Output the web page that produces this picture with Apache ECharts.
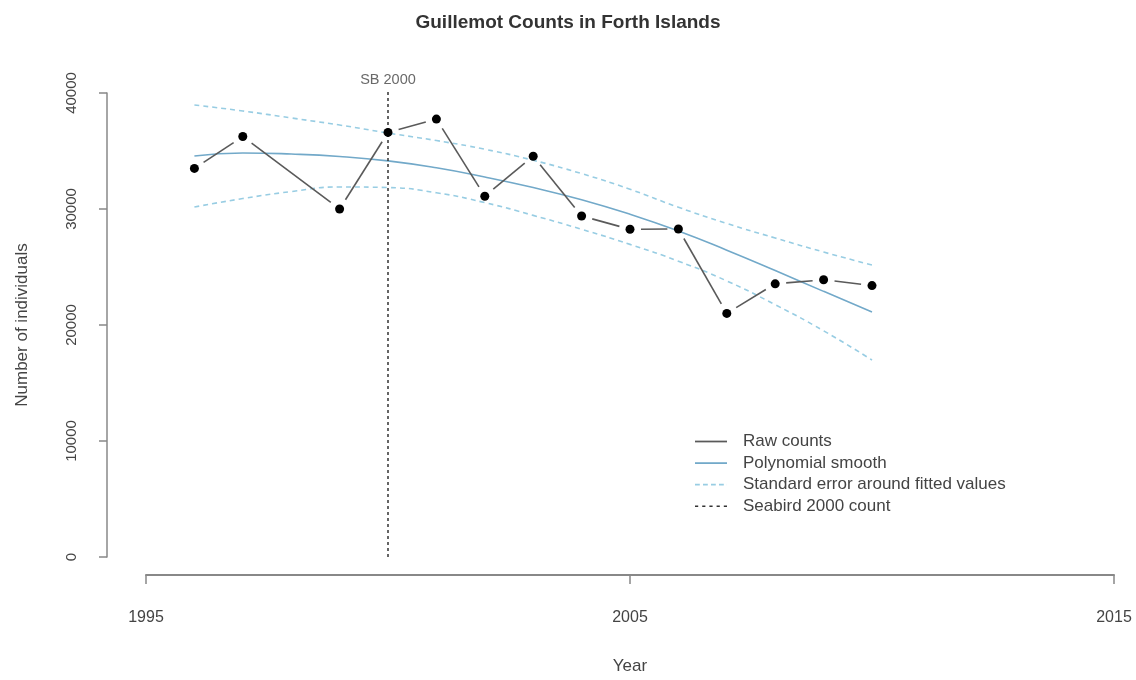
<!DOCTYPE html>
<html><head><meta charset="utf-8">
<script src="https://cdn.jsdelivr.net/npm/echarts@6/dist/echarts.min.js"></script>
<style>html,body{margin:0;padding:0;background:#fff}#c{width:1136px;height:680px}</style>
</head><body><div id="c"></div>
<script>
// Raw counts (1998 missing)
const years = [1996, 1997, 1999, 2000, 2001, 2002, 2003, 2004, 2005, 2006, 2007, 2008, 2009, 2010];
const counts = [33500, 36250, 30000, 36600, 37750, 31100, 34550, 29400, 28250, 28280, 21000, 23550, 23900, 23400];
// Polynomial smooth and standard error band
const fitYears = [1996, 1997, 1998, 1999, 2000, 2001, 2002, 2003, 2004, 2005, 2006, 2007, 2008, 2009, 2010];
const fitted  = [34570, 34830, 34740, 34530, 34150, 33550, 32760, 31850, 30800, 29550, 28100, 26450, 24700, 22900, 21120];
const upperSE = [38970, 38450, 37850, 37240, 36550, 35900, 35150, 34200, 33050, 31700, 30150, 28750, 27500, 26290, 25170];
const lowerSE = [30170, 30900, 31500, 31900, 31850, 31400, 30550, 29450, 28250, 26950, 25500, 23800, 21750, 19500, 16980];
// Seabird 2000 reference line
const seabirdYear = 2000;
const seabirdSpan = [0, 40300];
const seabirdLabel = 'SB 2000';
// Axes
const xTickValues = [1995, 2005, 2015];
const yTickValues = [0, 10000, 20000, 30000, 40000];

const rawColor = '#5a5a5a';
const smoothColor = '#72a9c9';
const seColor = '#98cde3';
const sbColor = '#333333';
const textColor = '#444';
const axisColor = '#888';
const FONT = 'Liberation Sans, Arial, sans-serif';

const solidIcon = 'path://M0,0H40V2.2H0Z';
const dashIcon = 'path://M0,0H6V2.2H0Z M10,0H16V2.2H10Z M20,0H26V2.2H20Z M30,0H36V2.2H30Z M39.9,0H40V2.2H39.9Z';
const dotIcon = 'path://M0,0H4V2H0Z M9,0H13V2H9Z M18,0H22V2H18Z M27,0H31V2H27Z M36,0H40V2H36Z';

const chart = echarts.init(document.getElementById('c'));
const option = {
  backgroundColor: '#fff',
  animation: false,
  title: {
    text: 'Guillemot Counts in Forth Islands',
    left: 'center', top: 13, padding: 0,
    textStyle: { fontFamily: FONT, fontWeight: 'bold', fontSize: 19, color: '#333' }
  },
  grid: { left: 146, right: 22, top: 93, bottom: 123 },
  legend: {
    orient: 'vertical', left: 695, top: 433, padding: 0,
    itemWidth: 32, itemHeight: 14, itemGap: 4.6,
    textStyle: { fontFamily: FONT, fontSize: 17, color: textColor, lineHeight: 17, padding: [0, 0, 0, 11] },
    data: [
      { name: 'Raw counts', icon: solidIcon },
      { name: 'Polynomial smooth', icon: solidIcon },
      { name: 'Standard error around fitted values', icon: dashIcon },
      { name: 'Seabird 2000 count', icon: dotIcon }
    ]
  },
  xAxis: {
    type: 'value', min: xTickValues[0], max: xTickValues[xTickValues.length - 1], interval: 10,
    offset: 18,
    name: 'Year', nameLocation: 'middle', nameGap: 83,
    nameTextStyle: { fontFamily: FONT, fontSize: 17, color: textColor },
    axisLine: { show: true, onZero: false, lineStyle: { color: axisColor, width: 2 } },
    axisTick: { show: true, length: 9, lineStyle: { color: axisColor, width: 1.5 } },
    axisLabel: { margin: 35, fontFamily: FONT, fontSize: 16, color: textColor,
                 showMinLabel: true, showMaxLabel: true, formatter: v => String(v) },
    splitLine: { show: false }
  },
  yAxis: {
    type: 'value', min: yTickValues[0], max: yTickValues[yTickValues.length - 1], interval: 10000,
    offset: 39,
    name: 'Number of individuals', nameLocation: 'middle', nameGap: 76,
    nameTextStyle: { fontFamily: FONT, fontSize: 17, color: textColor },
    axisLine: { show: true, lineStyle: { color: axisColor, width: 1.5 } },
    axisTick: { show: true, length: 8, lineStyle: { color: axisColor, width: 1.5 } },
    axisLabel: { rotate: 90, margin: 28, fontFamily: FONT, fontSize: 15, color: textColor,
                 showMinLabel: true, showMaxLabel: true, formatter: v => String(v) },
    splitLine: { show: false }
  },
  series: [
    {
      name: 'Raw counts', type: 'custom', z: 3,
      itemStyle: { color: rawColor },
      data: years.map((y, i) => [y, counts[i]]),
      renderItem: function (params, api) {
        const i = params.dataIndex;
        if (i >= years.length - 1) return null;
        const p0 = api.coord([years[i], counts[i]]);
        const p1 = api.coord([years[i + 1], counts[i + 1]]);
        const dx = p1[0] - p0[0], dy = p1[1] - p0[1];
        const len = Math.hypot(dx, dy);
        const g = 11;
        if (len <= 2 * g) return null;
        const ux = dx / len, uy = dy / len;
        return {
          type: 'line',
          shape: { x1: p0[0] + ux * g, y1: p0[1] + uy * g, x2: p1[0] - ux * g, y2: p1[1] - uy * g },
          style: { stroke: rawColor, lineWidth: 1.6 }
        };
      }
    },
    {
      name: 'points', type: 'scatter', z: 4,
      symbol: 'circle', symbolSize: 9,
      itemStyle: { color: '#000', opacity: 1 },
      data: years.map((y, i) => [y, counts[i]])
    },
    {
      name: 'Polynomial smooth', type: 'line', z: 2, symbol: 'none',
      lineStyle: { color: smoothColor, width: 1.6 }, itemStyle: { color: smoothColor },
      data: fitYears.map((y, i) => [y, fitted[i]]), smooth: true
    },
    {
      name: 'Standard error around fitted values', type: 'line', z: 2, symbol: 'none',
      lineStyle: { color: seColor, width: 1.6, type: [5, 4] }, itemStyle: { color: seColor },
      data: fitYears.map((y, i) => [y, upperSE[i]]), smooth: true
    },
    {
      name: 'Standard error around fitted values', type: 'line', z: 2, symbol: 'none',
      lineStyle: { color: seColor, width: 1.6, type: [5, 4] }, itemStyle: { color: seColor },
      data: fitYears.map((y, i) => [y, lowerSE[i]]), smooth: true
    },
    {
      name: 'Seabird 2000 count', type: 'line', z: 2, symbol: 'none', clip: false,
      lineStyle: { color: sbColor, width: 1.5, type: [3, 3] }, itemStyle: { color: sbColor },
      data: seabirdSpan.map(v => [seabirdYear, v])
    },
    {
      name: 'sbLabel', type: 'scatter', z: 5, symbolSize: 1, clip: false,
      itemStyle: { color: 'rgba(0,0,0,0)' },
      label: { show: true, position: 'top', distance: 2, formatter: seabirdLabel,
               fontFamily: FONT, fontSize: 14.5, color: textColor },
      data: [[seabirdYear, seabirdSpan[1]]]
    }
  ]
};
chart.setOption(option);
</script>
</body></html>
